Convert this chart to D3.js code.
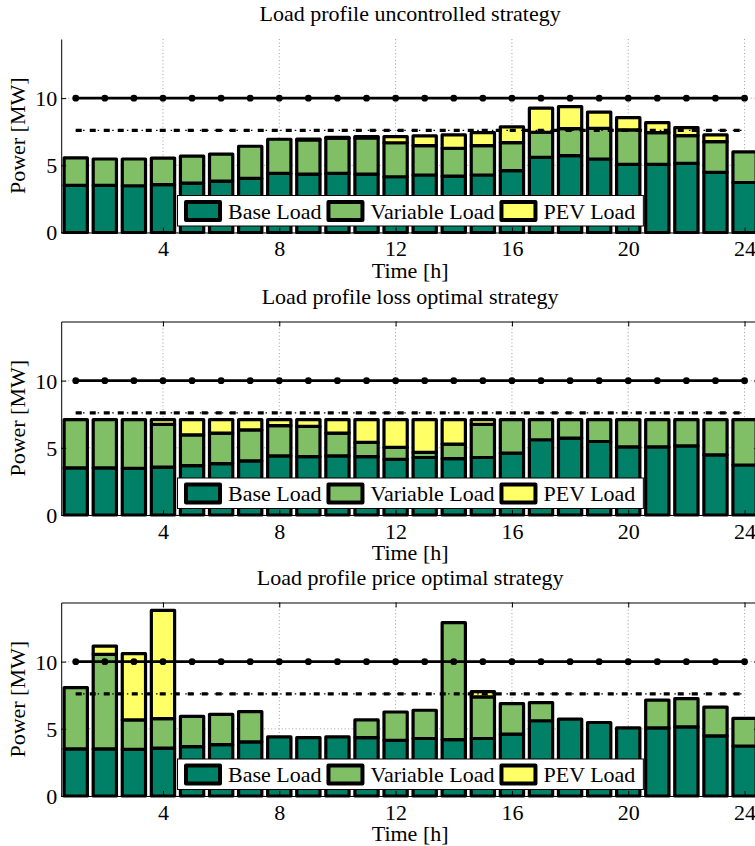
<!DOCTYPE html>
<html>
<head>
<meta charset="utf-8">
<script src="https://cdn.jsdelivr.net/npm/d3@7"></script>
<style>
  body { margin: 0; background: #fff; }
  svg { display: block; font-family: 'Liberation Serif', 'Times New Roman', serif; }
</style>
</head>
<body>
<svg width="755" height="846"></svg>
<script>
// ////////////////////////////////////////////////////////////// data //

const hours = [1, 2, 3, 4, 5, 6, 7, 8, 9, 10, 11, 12,
  13, 14, 15, 16, 17, 18, 19, 20, 21, 22, 23, 24];

const baseLoad = [3.5, 3.5, 3.48, 3.56, 3.67, 3.83, 4.03, 4.4, 4.35, 4.4, 4.35, 4.15,
  4.28, 4.2, 4.28, 4.6, 5.6, 5.72, 5.47, 5.07, 5.07, 5.15, 4.48, 3.72];

// uncontrolled strategy
const varUncontrolled = [2.05, 1.97, 1.99, 1.98, 2.02, 2.01, 2.39, 2.54, 2.55, 2.63, 2.69, 2.53,
  2.19, 2.07, 2.18, 2.09, 1.86, 2.01, 2.29, 2.56, 2.36, 2.06, 2.28, 2.28];
const pevUncontrolled = [0, 0, 0, 0, 0, 0, 0, 0, 0.06, 0.06, 0.1, 0.45,
  0.72, 0.99, 0.97, 1.17, 1.79, 1.64, 1.2, 0.92, 0.75, 0.6, 0.5, 0];

// loss optimal strategy
const varLossOptimal = [3.6, 3.6, 3.62, 3.19, 2.29, 2.27, 2.3, 2.25, 2.25, 1.7, 1.05, 0.89,
  0.38, 1.08, 2.47, 2.5, 1.5, 1.38, 1.63, 2.03, 2.03, 1.95, 2.62, 3.38];
const pevLossOptimal = [0, 0, 0, 0.35, 1.14, 1.0, 0.77, 0.45, 0.5, 1.0, 1.7, 2.06,
  2.44, 1.82, 0.35, 0, 0, 0, 0, 0, 0, 0, 0, 0];

// price optimal strategy
const varPriceOptimal = [4.57, 7.04, 2.18, 2.2, 2.26, 2.25, 2.25, 0, 0, 0, 1.31, 2.1,
  2.1, 8.7, 3.09, 2.27, 1.35, 0, 0, 0, 2.07, 2.1, 2.14, 2.06];
const pevPriceOptimal = [0, 0.62, 4.94, 8.06, 0, 0, 0, 0, 0, 0, 0, 0,
  0, 0, 0.4, 0, 0, 0, 0, 0, 0, 0, 0, 0];

const titles = [
  'Load profile uncontrolled strategy',
  'Load profile loss optimal strategy',
  'Load profile price optimal strategy',
];
const xTicks = [4, 8, 12, 16, 20, 24];
const yTicks = [0, 5, 10];
const capacityLimit = 10;
const referenceLevel = 7.6;
const seriesNames = ['Base Load', 'Variable Load', 'PEV Load'];
const seriesColors = ['#008066', '#80bf66', '#ffff66'];

// ////////////////////////////////////////////////////////////// layout //

const svg = d3.select('svg');
const panelTops = [39, 321.5, 602.5];
const plotHeight = 193.5;
const fontSize = 22;

const x = d3.scaleLinear()
    .domain([0.5, 24.5])
    .range([61.2, 759.1]);
const y = d3.scaleLinear()
    .domain([0, 14.4])
    .range([plotHeight, 0]);
const barWidth = 0.8 * (x(2) - x(1));

const panels = [
  {variable: varUncontrolled, pev: pevUncontrolled, box: false},
  {variable: varLossOptimal, pev: pevLossOptimal, box: true},
  {variable: varPriceOptimal, pev: pevPriceOptimal, box: true},
];

const keys = ['base', 'variable', 'pev'];

const drawPanel = (panel, i) => {
  const g = svg.append('g')
      .attr('transform', `translate(0,${panelTops[i]})`);

  // 0. grid
  // ----------------------------------
  g.append('g').selectAll('line')
      .data(xTicks)
      .join('line')
      .attr('x1', (d) => x(d))
      .attr('x2', (d) => x(d))
      .attr('y1', y(0))
      .attr('y2', 0)
      .attr('stroke', '#888')
      .attr('stroke-width', 0.8)
      .attr('stroke-dasharray', '1,2.5');

  g.append('g').selectAll('line')
      .data(yTicks)
      .join('line')
      .attr('x1', x.range()[0])
      .attr('x2', x.range()[1])
      .attr('y1', (d) => y(d))
      .attr('y2', (d) => y(d))
      .attr('stroke', '#888')
      .attr('stroke-width', 0.8)
      .attr('stroke-dasharray', '1,2.5');

  // 1. stacked bars
  // ----------------------------------
  const rows = hours.map((h, j) => ({
    hour: h,
    base: baseLoad[j],
    variable: panel.variable[j],
    pev: panel.pev[j],
  }));
  const stacked = d3.stack().keys(keys)(rows);

  g.append('g').selectAll('g')
      .data(stacked)
      .join('g')
      .attr('fill', (d, k) => seriesColors[k])
      .selectAll('rect')
      .data((d) => d.filter((s) => s[1] - s[0] > 0))
      .join('rect')
      .attr('x', (d) => x(d.data.hour) - barWidth / 2)
      .attr('width', barWidth)
      .attr('y', (d) => y(d[1]))
      .attr('height', (d) => y(d[0]) - y(d[1]))
      .attr('stroke', '#000')
      .attr('stroke-width', 3.2)
      .attr('stroke-linejoin', 'round');

  // 2. axes
  // ----------------------------------
  const left = g.append('g')
      .attr('transform', `translate(${x.range()[0]},0)`)
      .call(d3.axisLeft(y).tickValues(yTicks).tickSize(-5).tickSizeOuter(0).tickPadding(4));
  const bottom = g.append('g')
      .attr('transform', `translate(0,${y(0)})`)
      .call(d3.axisBottom(x).tickValues(xTicks).tickSize(-5).tickSizeOuter(0).tickPadding(8));

  if (panel.box) {
    g.append('g')
        .call(d3.axisTop(x).tickValues(xTicks).tickSize(-5).tickSizeOuter(0).tickFormat(''));
    g.append('g')
        .attr('transform', `translate(${x.range()[1]},0)`)
        .call(d3.axisRight(y).tickValues(yTicks).tickSize(-5).tickSizeOuter(0).tickFormat(''));
  }

  g.selectAll('.domain, .tick line')
      .attr('stroke', '#000')
      .attr('stroke-width', 1);
  [left, bottom].forEach((a) => a.selectAll('text')
      .attr('fill', '#000')
      .style('font-size', `${fontSize}px`)
      .style('font-family', 'Liberation Serif, serif'));
  left.selectAll('text').attr('dy', '0.34em');

  // 3. limit lines
  // ----------------------------------
  const limitLine = d3.line()
      .x((d) => x(d))
      .y(() => y(capacityLimit));
  g.append('path')
      .attr('d', limitLine(hours))
      .attr('fill', 'none')
      .attr('stroke', '#000')
      .attr('stroke-width', 2.6);
  g.append('g').selectAll('circle')
      .data(hours)
      .join('circle')
      .attr('cx', (d) => x(d))
      .attr('cy', y(capacityLimit))
      .attr('r', 3.4)
      .attr('fill', '#000');

  const refLine = d3.line()
      .x((d) => x(d))
      .y(() => y(referenceLevel));
  g.append('path')
      .attr('d', refLine(hours))
      .attr('fill', 'none')
      .attr('stroke', '#000')
      .attr('stroke-width', 3.2)
      .attr('stroke-dasharray', '6,8');
  g.append('path')
      .attr('d', refLine(hours))
      .attr('fill', 'none')
      .attr('stroke', '#000')
      .attr('stroke-width', 1.4)
      .attr('stroke-dasharray', '1.5,5.8');

  // 4. title and labels
  // ----------------------------------
  const midX = (x.range()[0] + x.range()[1]) / 2;
  g.append('text')
      .attr('x', midX)
      .attr('y', -18)
      .attr('text-anchor', 'middle')
      .style('font-size', `${fontSize}px`)
      .text(titles[i]);
  g.append('text')
      .attr('x', midX)
      .attr('y', y(0) + 45)
      .attr('text-anchor', 'middle')
      .style('font-size', `${fontSize}px`)
      .text('Time [h]');
  g.append('text')
      .attr('transform', `translate(24.5,${plotHeight / 2}) rotate(-90)`)
      .attr('text-anchor', 'middle')
      .style('font-size', `${fontSize}px`)
      .text('Power [MW]');

  // 5. legend
  // ----------------------------------
  const legend = g.append('g')
      .attr('transform', `translate(177.5,${y(0) - 37})`);
  const legendBox = legend.append('rect')
      .attr('height', 30.5)
      .attr('fill', '#fff')
      .attr('stroke', '#000')
      .attr('stroke-width', 1);
  let cursor = 8.5;
  seriesNames.forEach((name, k) => {
    legend.append('rect')
        .attr('x', cursor)
        .attr('y', 6.5)
        .attr('width', 34)
        .attr('height', 18)
        .attr('fill', seriesColors[k])
        .attr('stroke', '#000')
        .attr('stroke-width', 4)
        .attr('stroke-linejoin', 'round');
    const label = legend.append('text')
        .attr('x', cursor + 42)
        .attr('y', 23)
        .style('font-size', `${fontSize}px`)
        .text(name);
    cursor += 42 + label.node().getComputedTextLength() + 7;
  });
  legendBox.attr('width', cursor + 1);
};

panels.forEach(drawPanel);
</script>
</body>
</html>
